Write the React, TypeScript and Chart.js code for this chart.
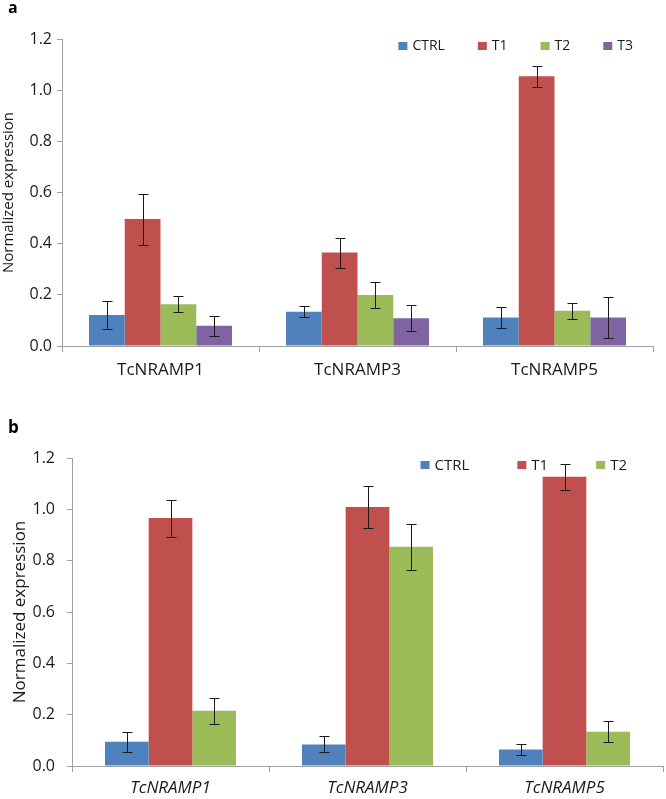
import React, { useEffect, useRef } from 'react';
import { Chart, registerables } from 'chart.js';

Chart.register(...registerables);

// ---- data ----
const genes = ['TcNRAMP1', 'TcNRAMP3', 'TcNRAMP5'];
const seriesNamesA = ['CTRL', 'T1', 'T2', 'T3'];
const seriesNamesB = ['CTRL', 'T1', 'T2'];

const ctrlA = [0.121, 0.134, 0.111];
const ctrlAErr = [0.053, 0.022, 0.04];
const t1A = [0.496, 0.365, 1.054];
const t1AErr = [0.1, 0.059, 0.041];
const t2A = [0.163, 0.199, 0.138];
const t2AErr = [0.031, 0.051, 0.032];
const t3A = [0.079, 0.108, 0.111];
const t3AErr = [0.039, 0.051, 0.081];

const ctrlB = [0.094, 0.084, 0.064];
const ctrlBErr = [0.04, 0.031, 0.022];
const t1B = [0.966, 1.009, 1.127];
const t1BErr = [0.072, 0.082, 0.05];
const t2B = [0.215, 0.854, 0.133];
const t2BErr = [0.051, 0.09, 0.041];

const yTickLabels = ['0.0', '0.2', '0.4', '0.6', '0.8', '1.0', '1.2'];
const yTitle = 'Normalized expression';

const COLORS = ['#4F81BD', '#C0504D', '#9BBB59', '#8064A2'];
const AXIS = '#A0A0A0';
const TEXT = '#1a1a1a';
const FONT = "'Open Sans', 'DejaVu Sans', sans-serif";

const errorBarPlugin = {
  id: 'errorBars',
  afterDatasetsDraw(chart: any) {
    const ctx = chart.ctx;
    const yScale = chart.scales.y;
    ctx.save();
    ctx.strokeStyle = '#1a1a1a';
    ctx.lineWidth = 1;
    chart.data.datasets.forEach((ds: any, di: number) => {
      const meta = chart.getDatasetMeta(di);
      meta.data.forEach((bar: any, i: number) => {
        const v = ds.data[i];
        const e = ds.errors[i];
        const x = Math.round(bar.x) + 0.5;
        const yTop = Math.round(yScale.getPixelForValue(v + e)) + 0.5;
        const yBot = Math.round(yScale.getPixelForValue(v - e)) + 0.5;
        const cap = 5;
        ctx.beginPath();
        ctx.moveTo(x, yTop);
        ctx.lineTo(x, yBot);
        ctx.moveTo(x - cap, yTop);
        ctx.lineTo(x + cap, yTop);
        ctx.moveTo(x - cap, yBot);
        ctx.lineTo(x + cap, yBot);
        ctx.stroke();
      });
    });
    ctx.restore();
  },
};

function makeLegendPlugin(p: any) {
  return {
    id: 'customLegend',
    afterDraw(chart: any) {
      const ctx = chart.ctx;
      const area = chart.chartArea;
      ctx.save();
      ctx.font = `${p.legendSize}px ${FONT}`;
      ctx.textBaseline = 'middle';
      ctx.textAlign = 'left';
      const items = chart.data.datasets.map((ds: any) => ({
        text: ds.label,
        color: ds.backgroundColor,
        w: ctx.measureText(ds.label).width,
      }));
      const boxW = 9;
      const boxH = 8;
      const gap = 5;
      let total = 0;
      items.forEach((it: any, i: number) => {
        total += boxW + gap + it.w + (i > 0 ? p.legendPad : 0);
      });
      let x = area.right - p.legendRight - total;
      const cy = area.top + p.legendDy;
      items.forEach((it: any) => {
        ctx.fillStyle = it.color;
        ctx.fillRect(x, cy - boxH / 2, boxW, boxH);
        x += boxW + gap;
        ctx.fillStyle = TEXT;
        ctx.fillText(it.text, x, cy + 0.5);
        x += it.w + p.legendPad;
      });
      // panel letter
      ctx.font = `bold ${p.letterSize}px ${FONT}`;
      ctx.textBaseline = 'top';
      ctx.fillStyle = '#000';
      ctx.fillText(p.letter, p.letterX, p.letterY);
      ctx.restore();
    },
  };
}

function makeConfig(p: any) {
  return {
    type: 'bar',
    data: {
      labels: genes,
      datasets: p.series.map((s: any, i: number) => ({
        label: s.name,
        data: s.values,
        errors: s.errors,
        backgroundColor: COLORS[i],
        borderWidth: 0,
        categoryPercentage: p.catPct,
        barPercentage: 1,
      })),
    },
    options: {
      responsive: false,
      animation: false,
      events: [],
      layout: { padding: { left: 0, right: p.padRight, top: p.padTop, bottom: p.padBottom } },
      plugins: { legend: { display: false }, tooltip: { enabled: false } },
      scales: {
        x: {
          grid: { drawOnChartArea: false, offset: true, tickLength: 6, color: AXIS, lineWidth: 1 },
          border: { color: AXIS, width: 1 },
          ticks: {
            color: TEXT,
            padding: p.xPad,
            font: { family: FONT, size: p.xSize, style: p.italic ? 'italic' : 'normal' },
          },
          afterFit: (s: any) => {
            s.height = p.xH;
          },
        },
        y: {
          min: 0,
          max: 1.2,
          ticks: {
            stepSize: 0.2,
            color: TEXT,
            padding: p.yPad,
            font: { family: FONT, size: p.yTickSize },
            callback: (_v: any, idx: number) => yTickLabels[idx],
          },
          grid: { drawOnChartArea: false, tickLength: 5, color: AXIS, lineWidth: 1 },
          border: { color: AXIS, width: 1 },
          title: {
            display: true,
            text: yTitle,
            color: TEXT,
            font: { family: FONT, size: p.titleSize },
            padding: { top: p.titlePad, bottom: 0 },
          },
          afterFit: (s: any) => {
            s.width = p.yW;
          },
        },
      },
    },
    plugins: [errorBarPlugin, makeLegendPlugin(p)],
  };
}

const panelA = {
  series: seriesNamesA.map((name, i) => ({
    name,
    values: [ctrlA, t1A, t2A, t3A][i],
    errors: [ctrlAErr, t1AErr, t2AErr, t3AErr][i],
  })),
  catPct: 0.726,
  padRight: 13,
  padTop: 39,
  padBottom: 14,
  xH: 40,
  yW: 62,
  xPad: 8,
  yPad: 5,
  xSize: 17,
  yTickSize: 16,
  titleSize: 15,
  titlePad: 0,
  italic: false,
  legendSize: 14,
  legendPad: 33,
  legendRight: 20,
  legendDy: 7,
  letter: 'a',
  letterSize: 16,
  letterX: 8,
  letterY: 0,
};

const panelB = {
  series: seriesNamesB.map((name, i) => ({
    name,
    values: [ctrlB, t1B, t2B][i],
    errors: [ctrlBErr, t1BErr, t2BErr][i],
  })),
  catPct: 0.665,
  padRight: 3,
  padTop: 58,
  padBottom: 0,
  xH: 33,
  yW: 72,
  xPad: 6,
  yPad: 12,
  xSize: 17,
  yTickSize: 16,
  titleSize: 17,
  titlePad: 10,
  italic: true,
  legendSize: 15,
  legendPad: 48,
  legendRight: 36,
  legendDy: 7,
  letter: 'b',
  letterSize: 17,
  letterX: 8,
  letterY: 20,
};

function Panel({ cfg, height }: { cfg: any; height: number }) {
  const ref = useRef<HTMLCanvasElement | null>(null);
  useEffect(() => {
    if (!ref.current) return;
    const chart = new Chart(ref.current, makeConfig(cfg) as any);
    return () => chart.destroy();
  }, [cfg]);
  return <canvas ref={ref} width={666} height={height} style={{ display: 'block', width: 666, height }} />;
}

export default function App() {
  return (
    <div style={{ position: 'absolute', left: 0, top: 0, width: 666, height: 799, background: '#fff' }}>
      <Panel cfg={panelA} height={400} />
      <Panel cfg={panelB} height={399} />
    </div>
  );
}
